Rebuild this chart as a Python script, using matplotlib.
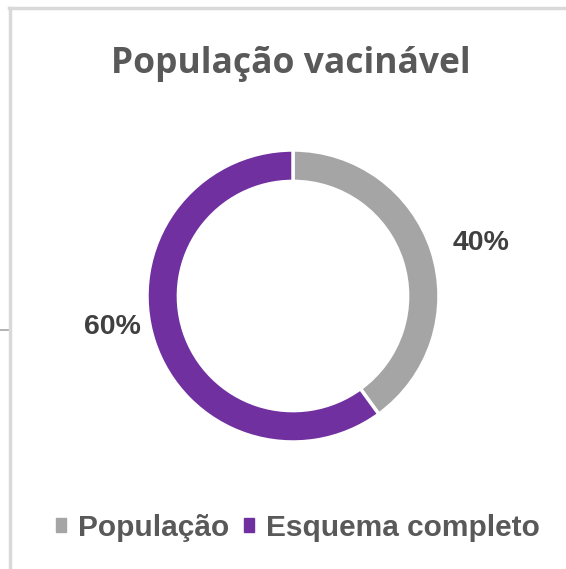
import matplotlib
matplotlib.use("Agg")
import matplotlib.pyplot as plt
from matplotlib.lines import Line2D
from matplotlib.patches import Rectangle

categories = ["População", "Esquema completo"]
values = [40, 60]
labels = ["40%", "60%"]
colors = ["#A5A5A5", "#7030A0"]
title = "População vacinável"

W, H = 566, 569
fig = plt.figure(figsize=(W / 100, H / 100), dpi=100)
fig.patch.set_facecolor("white")

# chart border
fig.add_artist(Line2D([9 / W, 1], [1 - 7.5 / H, 1 - 7.5 / H], color="#D9D9D9", lw=2.5))
fig.add_artist(Line2D([9.5 / W, 9.5 / W], [0, 1 - 7.5 / H], color="#D9D9D9", lw=2.5))
fig.add_artist(Line2D([0, 8 / W], [1 - 330 / H, 1 - 330 / H], color="#A6A6A6", lw=1.2))

cx, cy, R = 293, 296, 146
ax = fig.add_axes([(cx - R) / W, 1 - (cy + R) / H, 2 * R / W, 2 * R / H])
wedges, _ = ax.pie(values, colors=colors, startangle=90, counterclock=False,
                   radius=1.0, wedgeprops=dict(width=0.215, edgecolor="white", linewidth=2.5))
ax.set_aspect("equal")
ax.set_xlim(-1, 1)
ax.set_ylim(-1, 1)

# data labels
fig.text(481 / W, 1 - 243 / H, labels[0], ha="center", va="center",
         fontsize=20.5, fontweight="bold", color="#404040", family="Liberation Sans")
fig.text(112 / W, 1 - 327 / H, labels[1], ha="center", va="center",
         fontsize=20.5, fontweight="bold", color="#404040", family="Liberation Sans")

fig.text(291 / W, 1 - 64 / H, title, ha="center", va="center",
         fontsize=25.5, fontweight="bold", color="#595959", family="Open Sans")

leg = fig.legend(handles=[Rectangle((0, 0), 1, 1, color=c) for c in colors], labels=categories,
                 loc="center", bbox_to_anchor=(298 / W, 1 - 528 / H), ncol=2, frameon=False,
                 handlelength=0.33, handleheight=0.33, handletextpad=0.4, columnspacing=0.5,
                 borderpad=0, borderaxespad=0,
                 prop=dict(family="Liberation Sans", weight="bold", size=21.5))
for t in leg.get_texts():
    t.set_color("#595959")

fig.savefig("out.png", dpi=100, facecolor="white")
